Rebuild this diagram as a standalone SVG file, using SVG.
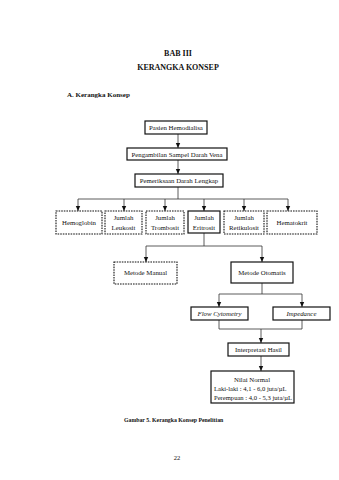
<svg xmlns="http://www.w3.org/2000/svg" width="339" height="480" viewBox="0 0 339 480">
<defs>
<marker id="ah" markerWidth="6" markerHeight="6" refX="5" refY="3" orient="auto" markerUnits="userSpaceOnUse">
<path d="M0,0.8 L5,3 L0,5.2 Z" fill="#111"/>
</marker>
<style>
.t{font-family:"Liberation Serif","Times New Roman",serif;fill:#111}
.h{font-size:8px;font-weight:bold;text-anchor:middle}
.b{font-size:6.8px;text-anchor:middle}
.s{fill:#fff;stroke:#111;stroke-width:1.2}
.d{fill:#fff;stroke:#111;stroke-width:1.1;stroke-dasharray:1.6 1}
.c{fill:none;stroke:#333;stroke-width:0.8}
.a{marker-end:url(#ah)}
</style>
</defs>
<rect width="339" height="480" fill="#fff"/>
<text class="t h" x="178" y="56">BAB III</text>
<text class="t h" x="178" y="70">KERANGKA KONSEP</text>
<text class="t" x="67" y="97" font-size="7" font-weight="bold">A.  Kerangka Konsep</text>

<g id="connectors">
<path class="c a" d="M178,134 V148"/>
<path class="c a" d="M178,160 V174"/>
<path class="c" d="M178,187 V199 M78,199 H288"/>
<path class="c a" d="M78,199 V211"/>
<path class="c a" d="M124,199 V211"/>
<path class="c a" d="M165,199 V211"/>
<path class="c a" d="M204,199 V211"/>
<path class="c a" d="M244,199 V211"/>
<path class="c a" d="M288,199 V211"/>
<path class="c" d="M204,233 V246 M146,246 H262"/>
<path class="c a" d="M146,246 V262"/>
<path class="c a" d="M262,246 V262"/>
<path class="c" d="M262,283 V294 M219,294 H302"/>
<path class="c a" d="M219,294 V307"/>
<path class="c a" d="M302,294 V307"/>
<path class="c" d="M219,320 V329 H302 V320"/>
<path class="c a" d="M261,329 V343"/>
<path class="c a" d="M261,356 V371"/>
</g>

<g id="pasien"><rect class="s" x="145" y="121" width="62" height="13"/><text class="t b" x="176" y="130">Pasien Hemodialisa</text></g>
<g id="pengambilan"><rect class="s" x="127" y="148" width="100" height="12"/><text class="t b" x="177" y="156.5">Pengambilan Sampel Darah Vena</text></g>
<g id="pemeriksaan"><rect class="s" x="135" y="174" width="88" height="13"/><text class="t b" x="179" y="183">Pemeriksaan Darah Lengkap</text></g>

<g id="hemoglobin"><rect class="d" x="56" y="211" width="46" height="23"/><text class="t b" x="79" y="225">Hemoglobin</text></g>
<g id="leukosit"><rect class="d" x="105" y="211" width="37" height="23"/><text class="t b" x="123.5" y="220">Jumlah</text><text class="t b" x="123.5" y="230">Leukosit</text></g>
<g id="trombosit"><rect class="d" x="146" y="211" width="38" height="23"/><text class="t b" x="165" y="220">Jumlah</text><text class="t b" x="165" y="230">Trombosit</text></g>
<g id="eritrosit"><rect class="s" x="188" y="211" width="32" height="22"/><text class="t b" x="204" y="220">Jumlah</text><text class="t b" x="204" y="230">Eritrosit</text></g>
<g id="retikulosit"><rect class="d" x="224" y="211" width="40" height="23"/><text class="t b" x="244" y="220">Jumlah</text><text class="t b" x="244" y="230">Retikulosit</text></g>
<g id="hematokrit"><rect class="d" x="267" y="211" width="50" height="23"/><text class="t b" x="292" y="225">Hematokrit</text></g>

<g id="manual"><rect class="d" x="114" y="262" width="63" height="22"/><text class="t b" x="145.5" y="275">Metode Manual</text></g>
<g id="otomatis"><rect class="s" x="231" y="262" width="62" height="21"/><text class="t b" x="262" y="275">Metode Otomatis</text></g>

<g id="flow"><rect class="s" x="191" y="307" width="57" height="13"/><text class="t b" x="219.5" y="316" font-style="italic">Flow Cytometry</text></g>
<g id="impedance"><rect class="s" x="273" y="307" width="57" height="13"/><text class="t b" x="301.5" y="316" font-style="italic">Impedance</text></g>

<g id="interpretasi"><rect class="s" x="228" y="343" width="61" height="13"/><text class="t b" x="258.5" y="352">Interpretasi Hasil</text></g>
<g id="nilai"><rect class="s" x="211" y="371" width="83" height="32"/>
<text class="t b" x="252" y="382">Nilai Normal</text>
<text class="t" x="214" y="391" font-size="6.6">Laki-laki : 4,1 - 6,0 juta/µL</text>
<text class="t" x="214" y="400" font-size="6.6">Perempuan : 4,0 - 5,3 juta/µL</text>
</g>

<text class="t" x="124" y="422" font-size="5.8" font-weight="bold">Gambar 5. Kerangka Konsep Penelitian</text>
<text class="t" x="177" y="460" font-size="6.5" text-anchor="middle">22</text>
</svg>
